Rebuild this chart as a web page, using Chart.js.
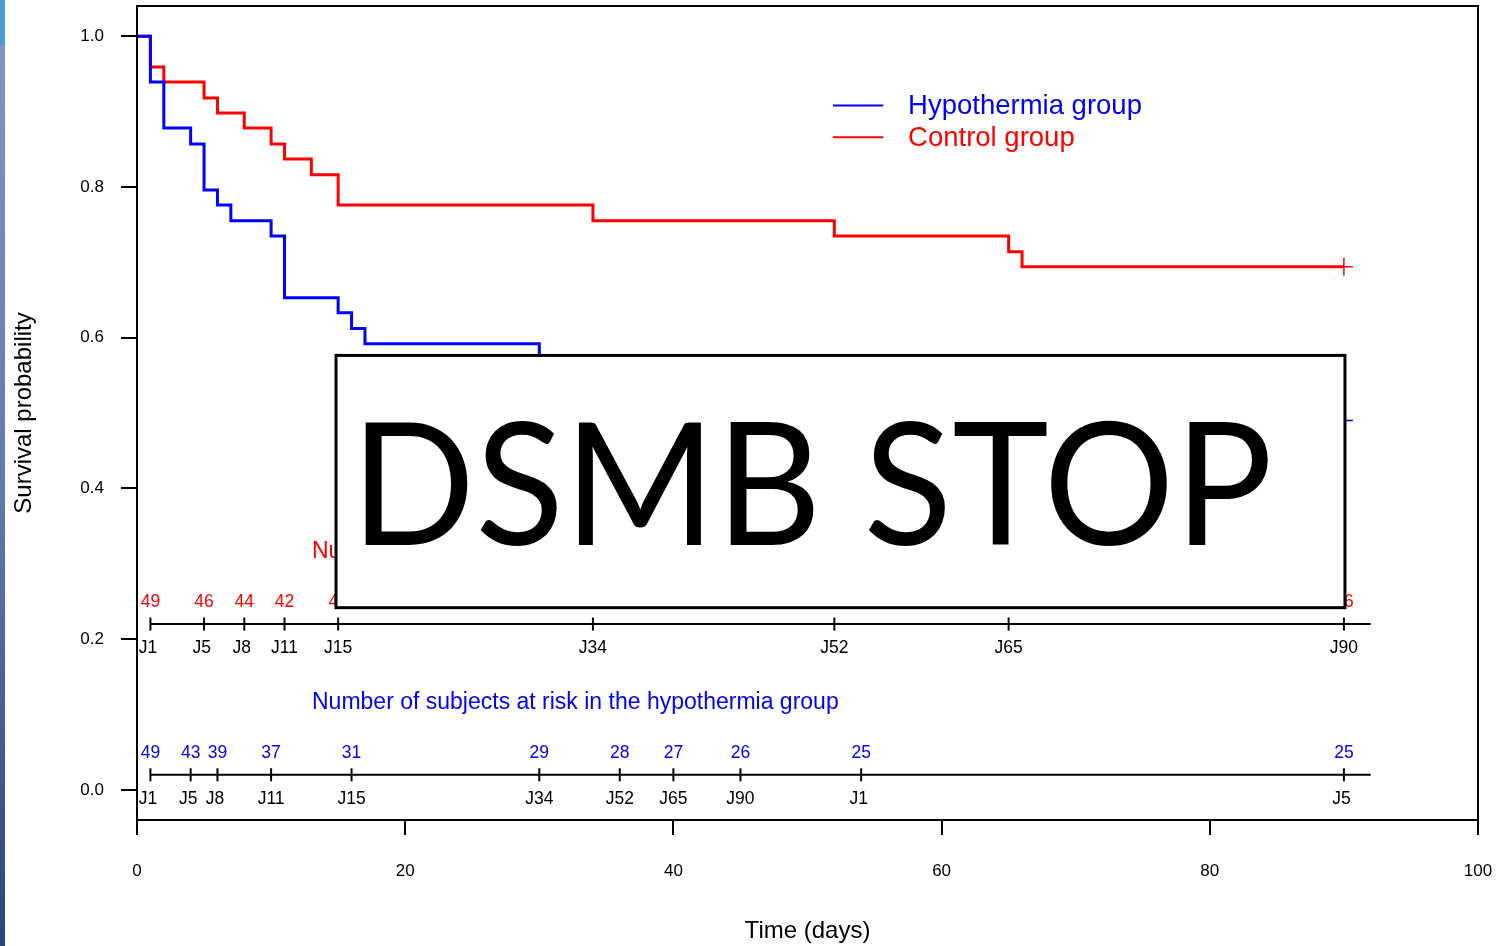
<!DOCTYPE html>
<html>
<head>
<meta charset="utf-8">
<script src="https://cdn.jsdelivr.net/npm/chart.js@4.4.1/dist/chart.umd.min.js"></script>
<style>
  html, body { margin: 0; padding: 0; background: #fff; }
  #wrap { position: relative; width: 1508px; height: 946px; }
  #strip { position: absolute; left: 0; top: 0; width: 5px; height: 946px;
    background: linear-gradient(to bottom, #4a9ad6 0px, #4a9ad6 44px, #8494c2 46px, #6379b2 480px, #2b4285 946px); }
</style>
</head>
<body>
<div id="wrap">
  <canvas id="km" width="1508" height="946"></canvas>
  <div id="strip"></div>
</div>
<script>
// Kaplan-Meier steps (day, survival)
const hypoDays = [0, 1, 2, 4, 5, 6, 7, 10, 11, 15, 16, 17, 30, 36, 40, 45, 54, 90];
const hypoSurv = [1.000, 0.939, 0.878, 0.857, 0.796, 0.776, 0.755, 0.735, 0.653, 0.633, 0.612, 0.592, 0.571, 0.551, 0.531, 0.510, 0.490, 0.490];
const ctrlDays = [0, 1, 2, 5, 6, 8, 10, 11, 13, 15, 34, 52, 65, 66, 90];
const ctrlSurv = [1.000, 0.959, 0.939, 0.918, 0.898, 0.878, 0.857, 0.837, 0.816, 0.776, 0.755, 0.735, 0.714, 0.694, 0.694];
const hypoCensor = [90];
const ctrlCensor = [90];

// number at risk tables
const ctrlRiskDays = [1, 5, 8, 11, 15, 34, 52, 65, 90];
const ctrlRiskN = [49, 46, 44, 42, 40, 38, 37, 36, 36];
const ctrlRiskLabels = ['J1', 'J5', 'J8', 'J11', 'J15', 'J34', 'J52', 'J65', 'J90'];
const hypoRiskDays = [1, 4, 6, 10, 16, 30, 36, 40, 45, 54, 90];
const hypoRiskN = [49, 43, 39, 37, 31, 29, 28, 27, 26, 25, 25];
const hypoRiskLabels = ['J1', 'J5', 'J8', 'J11', 'J15', 'J34', 'J52', 'J65', 'J90', 'J1', 'J5'];

const xTicks = [0, 20, 40, 60, 80, 100];
const yTicks = [0, 0.2, 0.4, 0.6, 0.8, 1.0];

const seriesNames = ['Hypothermia group', 'Control group'];
const ctrlRiskTitle = 'Number of subjects at risk in the control group';
const hypoRiskTitle = 'Number of subjects at risk in the hypothermia group';
const stopText = 'DSMB STOP';

const BLUE = '#0000ff';
const RED = '#ff0000';
const FONT = "'Liberation Sans', Arial, sans-serif";

const ctrlRiskY = 0.22;
const hypoRiskY = 0.02;
const riskLineEnd = 92;

function survAt(days, surv, d) {
  let v = surv[0];
  days.forEach((t, i) => { if (t <= d) v = surv[i]; });
  return v;
}

function kmPoints(days, surv) {
  return days.map((d, i) => ({ x: d, y: surv[i] }));
}

function riskLine(days, yv) {
  let pts = days.map(d => ({ x: d, y: yv }));
  pts.push({ x: riskLineEnd, y: yv });
  return pts;
}

const riskStyle = {
  type: 'line',
  borderColor: '#000',
  borderWidth: 2,
  pointStyle: 'line',
  rotation: 90,
  pointBorderColor: '#000',
  pointBorderWidth: 2,
  pointRadius: ctx => (ctx.raw && ctx.raw.x < riskLineEnd ? 6.5 : 0),
  fill: false
};

function drawRisk(ctx, x, y, days, counts, labels, yv, color, title) {
  const py = y.getPixelForValue(yv);
  ctx.font = '17.5px ' + FONT;
  ctx.textAlign = 'center';
  ctx.textBaseline = 'middle';
  days.forEach((d, i) => {
    const px = x.getPixelForValue(d);
    ctx.fillStyle = color;
    ctx.fillText(String(counts[i]), px, py - 22);
    ctx.fillStyle = '#000';
    ctx.fillText(labels[i].padEnd(3, ' '), px, py + 24);
  });
  ctx.font = '23px ' + FONT;
  ctx.textAlign = 'left';
  ctx.fillStyle = color;
  ctx.fillText(title, x.getPixelForValue(13.05), py - 72);
}

const overlay = {
  id: 'overlay',
  afterDatasetsDraw(chart) {
    const { ctx, chartArea: a, scales: { x, y } } = chart;
    ctx.save();

    // box around the plot
    ctx.strokeStyle = '#000';
    ctx.lineWidth = 2;
    ctx.strokeRect(a.left, a.top, a.right - a.left, a.bottom - a.top);

    drawRisk(ctx, x, y, ctrlRiskDays, ctrlRiskN, ctrlRiskLabels, ctrlRiskY, RED, ctrlRiskTitle);
    drawRisk(ctx, x, y, hypoRiskDays, hypoRiskN, hypoRiskLabels, hypoRiskY, BLUE, hypoRiskTitle);

    // legend
    const lx0 = x.getPixelForValue(51.9), lx1 = x.getPixelForValue(55.65), tx = x.getPixelForValue(57.5);
    [[seriesNames[0], BLUE, 0.908], [seriesNames[1], RED, 0.866]].forEach(([txt, col, yv]) => {
      const py = y.getPixelForValue(yv);
      ctx.strokeStyle = col;
      ctx.lineWidth = 2;
      ctx.beginPath();
      ctx.moveTo(lx0, py);
      ctx.lineTo(lx1, py);
      ctx.stroke();
      ctx.fillStyle = col;
      ctx.font = '27.5px ' + FONT;
      ctx.textAlign = 'left';
      ctx.textBaseline = 'middle';
      ctx.fillText(txt, tx, py + 1);
    });

    // DSMB STOP box
    const bl = x.getPixelForValue(14.84), br = x.getPixelForValue(90.08);
    const bt = y.getPixelForValue(0.5764), bb = y.getPixelForValue(0.2417);
    ctx.fillStyle = '#fff';
    ctx.fillRect(bl, bt, br - bl, bb - bt);
    ctx.strokeStyle = '#000';
    ctx.lineWidth = 3;
    ctx.strokeRect(bl, bt, br - bl, bb - bt);

    ctx.textAlign = 'left';
    ctx.textBaseline = 'alphabetic';
    ctx.font = "100px Lato, 'Liberation Sans', sans-serif";
    let m = ctx.measureText(stopText);
    const size = 100 * 127 / m.actualBoundingBoxAscent;
    ctx.font = size + "px Lato, 'Liberation Sans', sans-serif";
    m = ctx.measureText(stopText);
    const inkW = m.actualBoundingBoxRight + m.actualBoundingBoxLeft;
    const sx = 903 / inkW;
    ctx.translate(365, 545);
    ctx.scale(sx, 1);
    ctx.fillStyle = '#000';
    ctx.fillText(stopText, m.actualBoundingBoxLeft, 0);

    ctx.restore();
  }
};

new Chart(document.getElementById('km').getContext('2d'), {
  type: 'line',
  data: {
    datasets: [
      {
        label: seriesNames[0],
        data: kmPoints(hypoDays, hypoSurv),
        stepped: true,
        borderColor: BLUE,
        borderWidth: 3,
        borderJoinStyle: 'miter',
        pointRadius: 0,
        fill: false
      },
      {
        type: 'scatter',
        data: hypoCensor.map(d => ({ x: d, y: survAt(hypoDays, hypoSurv, d) })),
        pointStyle: 'cross',
        pointRadius: 9,
        borderColor: BLUE,
        borderWidth: 1.5
      },
      {
        label: seriesNames[1],
        data: kmPoints(ctrlDays, ctrlSurv),
        stepped: true,
        borderColor: RED,
        borderWidth: 3,
        borderJoinStyle: 'miter',
        pointRadius: 0,
        fill: false
      },
      {
        type: 'scatter',
        data: ctrlCensor.map(d => ({ x: d, y: survAt(ctrlDays, ctrlSurv, d) })),
        pointStyle: 'cross',
        pointRadius: 9,
        borderColor: RED,
        borderWidth: 1.5
      },
      Object.assign({ data: riskLine(ctrlRiskDays, ctrlRiskY) }, riskStyle),
      Object.assign({ data: riskLine(hypoRiskDays, hypoRiskY) }, riskStyle)
    ]
  },
  options: {
    responsive: false,
    animation: false,
    events: [],
    layout: { autoPadding: false, padding: { top: 6, right: 30, left: 0, bottom: 0 } },
    plugins: {
      legend: { display: false },
      tooltip: { enabled: false }
    },
    scales: {
      x: {
        type: 'linear',
        min: 0,
        max: 100,
        afterBuildTicks: s => { s.ticks = xTicks.map(v => ({ value: v })); },
        afterFit: s => { s.height = 126; s.paddingLeft = 0; s.paddingRight = 0; },
        border: { display: false },
        grid: { drawOnChartArea: false, drawTicks: true, tickLength: 15, color: '#000', lineWidth: 2 },
        ticks: {
          autoSkip: false,
          maxRotation: 0,
          padding: 26,
          color: '#000',
          font: { family: FONT, size: 17 },
          callback: v => String(v)
        },
        title: {
          display: true,
          text: 'Time (days)',
          color: '#000',
          font: { family: FONT, size: 24 },
          padding: { top: 0, bottom: 0 }
        }
      },
      y: {
        type: 'linear',
        min: -0.04,
        max: 1.04,
        afterBuildTicks: s => { s.ticks = yTicks.map(v => ({ value: v })); },
        afterFit: s => { s.width = 137; s.paddingTop = 0; s.paddingBottom = 0; },
        border: { display: false },
        grid: { drawOnChartArea: false, drawTicks: true, tickLength: 16, color: '#000', lineWidth: 2 },
        ticks: {
          autoSkip: false,
          padding: 17,
          color: '#000',
          font: { family: FONT, size: 17, lineHeight: 0.2 },
          callback: v => v.toFixed(1)
        },
        title: {
          display: true,
          text: 'Survival probability',
          color: '#000',
          font: { family: FONT, size: 24 },
          padding: { top: 10, bottom: 0 }
        }
      }
    }
  },
  plugins: [overlay]
});
</script>
</body>
</html>
